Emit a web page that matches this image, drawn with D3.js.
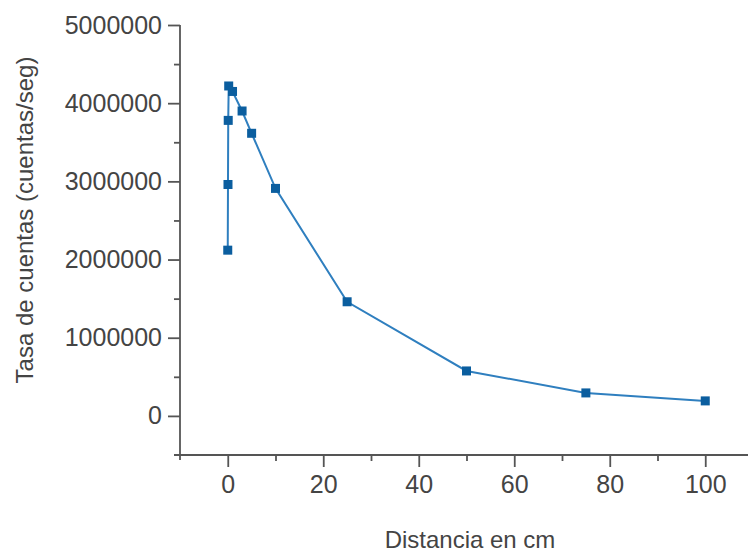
<!DOCTYPE html>
<html><head><meta charset="utf-8">
<script src="https://cdn.jsdelivr.net/npm/d3@7"></script>
<style>
html,body{margin:0;padding:0;background:#fff;}
svg{display:block;}
text{font-family:"Liberation Sans",Arial,sans-serif;fill:#444;}
</style></head>
<body><svg id="c" width="748" height="554"></svg>
<script>
const distances = [0, 0.05, 0.1, 0.2, 1, 3, 5, 10, 25, 50, 75, 100];
const rates = [2120000, 2960000, 3780000, 4220000, 4150000, 3900000, 3615000, 2910000, 1460000, 575000, 294000, 192000];
const xTicks = [0, 20, 40, 60, 80, 100];
const yTicks = [0, 1000000, 2000000, 3000000, 4000000, 5000000];
const xTitle = "Distancia en cm";
const yTitle = "Tasa de cuentas (cuentas/seg)";

const svg = d3.select("#c");
const x = d3.scaleLinear().domain([-10, 110]).range([180, 753]);
const y = d3.scaleLinear().domain([-500000, 5000000]).range([455, 25]);
const axisColor = "#555";

// axes lines
svg.append("line").attr("x1", x(-10)).attr("x2", x(-10)).attr("y1", y(5000000)).attr("y2", y(-500000) + 5)
  .attr("stroke", axisColor).attr("stroke-width", 1.8);
svg.append("line").attr("x1", x(-10) - 6).attr("x2", 748).attr("y1", y(-500000)).attr("y2", y(-500000))
  .attr("stroke", axisColor).attr("stroke-width", 1.8);

// y axis ticks
const yAx = d3.axisLeft(y).tickValues(yTicks).tickSize(12).tickPadding(6).tickFormat(d3.format("d"));
const gy = svg.append("g").attr("transform", `translate(${x(-10)},0)`).call(yAx);
gy.select(".domain").remove();
gy.selectAll(".tick line").attr("stroke", axisColor).attr("stroke-width", 1.8);
gy.selectAll(".tick text").attr("font-size", 25).attr("fill", "#444").attr("font-family", "Liberation Sans, Arial, sans-serif");
const yMinor = d3.axisLeft(y).tickValues(d3.range(500000, 5000000, 1000000)).tickSize(6).tickFormat("");
const gym = svg.append("g").attr("transform", `translate(${x(-10)},0)`).call(yMinor);
gym.select(".domain").remove();
gym.selectAll(".tick line").attr("stroke", axisColor).attr("stroke-width", 1.8);

// x axis ticks
const xAx = d3.axisBottom(x).tickValues(xTicks).tickSize(12).tickPadding(8).tickFormat(d3.format("d"));
const gx = svg.append("g").attr("transform", `translate(0,${y(-500000)})`).call(xAx);
gx.select(".domain").remove();
gx.selectAll(".tick line").attr("stroke", axisColor).attr("stroke-width", 1.8);
gx.selectAll(".tick text").attr("font-size", 25).attr("fill", "#444").attr("font-family", "Liberation Sans, Arial, sans-serif");
const xMinor = d3.axisBottom(x).tickValues([10, 30, 50, 70, 90]).tickSize(6).tickFormat("");
const gxm = svg.append("g").attr("transform", `translate(0,${y(-500000)})`).call(xMinor);
gxm.select(".domain").remove();
gxm.selectAll(".tick line").attr("stroke", axisColor).attr("stroke-width", 1.8);

// titles
svg.append("text").attr("x", 470).attr("y", 548).attr("text-anchor", "middle").attr("font-size", 24).text(xTitle);
svg.append("text").attr("transform", "translate(33,220) rotate(-90)").attr("text-anchor", "middle").attr("font-size", 24).text(yTitle);

// data
const pts = distances.map((d, i) => [d, rates[i]]);
svg.append("path").datum(pts)
  .attr("d", d3.line().x(d => x(d[0])).y(d => y(d[1])))
  .attr("fill", "none").attr("stroke", "#2f7fbf").attr("stroke-width", 2);
const s = 9;
svg.selectAll("rect.m").data(pts).enter().append("rect").attr("class", "m")
  .attr("x", d => x(d[0]) - s / 2).attr("y", d => y(d[1]) - s / 2)
  .attr("width", s).attr("height", s).attr("fill", "#0b5e9f");
</script></body></html>
